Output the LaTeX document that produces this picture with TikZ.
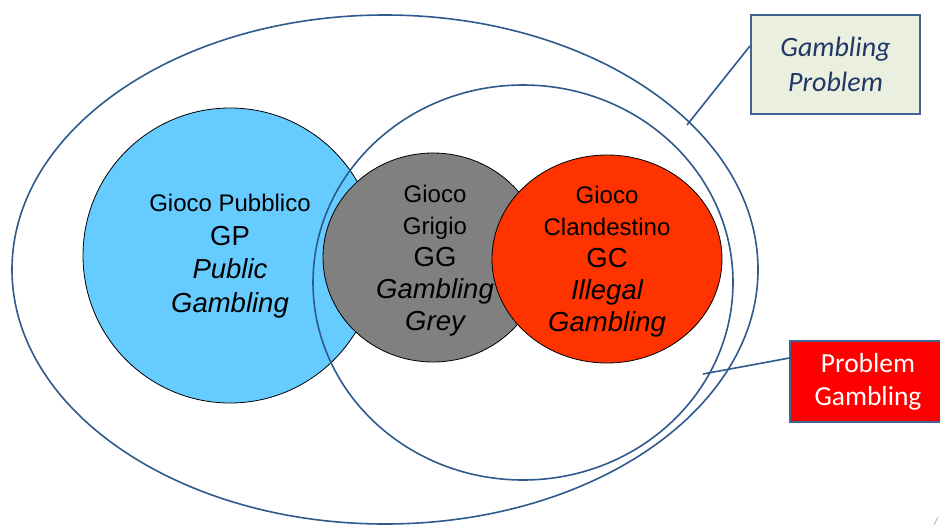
\documentclass[tikz,border=0pt]{standalone}
\usepackage{fontspec}
\setmainfont{Liberation Sans}
\newfontfamily\calibfont{Carlito}
\usetikzlibrary{shapes.geometric}
\definecolor{edgeblue}{HTML}{2E5A8C}
\definecolor{boxedge}{HTML}{3F6494}
\definecolor{gpblue}{HTML}{66CCFF}
\definecolor{gggray}{HTML}{808080}
\definecolor{gcred}{HTML}{FF3300}
\definecolor{pgred}{HTML}{FF0000}
\definecolor{gpfill}{HTML}{EBEFDF}
\definecolor{navytext}{HTML}{1F3864}
\newcommand\lgtxt{\fontsize{27.5}{32}\selectfont}
\newcommand\lgtxtb{\fontsize{27.5}{33.5}\selectfont}
\tikzset{
  setline/.style={draw=edgeblue, line width=1.6pt},
  venn/.style={ellipse, draw=black, line width=0.8pt, inner sep=0pt},
  venntext/.style={align=center, inner sep=0pt, text=black, font=\fontsize{24}{32}\selectfont},
  conn/.style={draw=edgeblue, line width=1.6pt},
}
\begin{document}
\begin{tikzpicture}[x=1pt, y=-1pt]
\useasboundingbox (0,0) rectangle (940,525);
\clip (0,0) rectangle (940,525);
\fill[white] (0,0) rectangle (940,525);
% outer set
\node[ellipse, setline, minimum width=746pt, minimum height=509pt, inner sep=0pt] (outer) at (385,269.5) {};
% public gambling circle
\node[venn, fill=gpblue, minimum width=294pt, minimum height=295pt] (gp) at (230,255.5) {};
% inner set
\node[ellipse, setline, minimum width=420pt, minimum height=395pt, inner sep=0pt] (inner) at (523,282.5) {};
% grey gambling
\node[venn, fill=gggray, minimum width=220pt, minimum height=209pt] (gg) at (433,257.5) {};
% illegal gambling
\node[venn, fill=gcred, minimum width=230pt, minimum height=208pt] (gc) at (607,259) {};
% texts
\node[venntext, font=\fontsize{24}{33.5}\selectfont] (gpt) at (230,256) {Gioco Pubblico\\{\lgtxtb GP}\\{\lgtxtb\itshape Public}\\{\lgtxtb\itshape Gambling}};
\node[venntext] (ggt) at (435,261) {Gioco\\Grigio\\{\lgtxt GG}\\{\lgtxt\itshape Gambling}\\{\lgtxt\itshape Grey}};
\node[venntext] (gct) at (607,262) {Gioco\\Clandestino\\{\lgtxt GC}\\{\lgtxt\itshape Illegal}\\{\lgtxt\itshape Gambling}};
% label boxes
\node[draw=boxedge, line width=2.2pt, fill=gpfill, minimum width=169pt, minimum height=99pt, align=center, inner sep=0pt,
      text=navytext, font=\calibfont\itshape\fontsize{28}{35}\selectfont] (gpbox) at (835.5,64.5) {Gambling\\Problem};
\node[draw=boxedge, line width=1.2pt, fill=pgred, minimum width=156pt, minimum height=81pt, align=center, inner sep=0pt,
      text=white, font=\calibfont\fontsize{27.5}{33}\selectfont] (pgbox) at (868,381.5) {Problem\\Gambling};
% connectors
\coordinate (gpend) at (687,125);
\coordinate (pgend) at (703,374);
\draw[conn] ([yshift=18.5pt]gpbox.west) -- (gpend);
\draw[conn] ([yshift=23.5pt]pgbox.west) -- (pgend);
% small mark bottom right
\draw[gray!60, line width=0.8pt] (938,517) -- (934,525);
\end{tikzpicture}
\end{document}
